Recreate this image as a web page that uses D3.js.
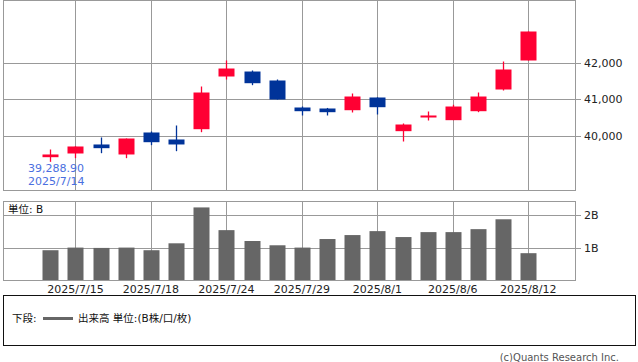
<!DOCTYPE html>
<html>
<head>
<meta charset="utf-8">
<script src="https://cdn.jsdelivr.net/npm/d3@7"></script>
<style>
  body { margin: 0; background: #fff; }
  svg text { font-family: "DejaVu Sans", "Noto Sans CJK JP", sans-serif; }
</style>
</head>
<body>
<div id="chart"></div>
<script>
// daily candles (Nikkei-like)
var dates = ["2025/7/14","2025/7/15","2025/7/16","2025/7/17","2025/7/18","2025/7/22","2025/7/23",
  "2025/7/24","2025/7/25","2025/7/28","2025/7/29","2025/7/30","2025/7/31","2025/8/1",
  "2025/8/4","2025/8/5","2025/8/6","2025/8/7","2025/8/8","2025/8/12"];
var opens  = [39416, 39517, 39763, 39490, 40090, 39899, 40180, 41618, 41754, 41509, 40772, 40745, 40698, 41045, 40126, 40499, 40426, 40671, 41263, 42055];
var highs  = [39626, 39715, 39954, 39926, 40117, 40281, 41345, 42055, 41782, 41536, 40799, 40760, 41154, 41050, 40336, 40663, 40846, 41181, 42027, 42846];
var lows   = [39288.9, 39389, 39525, 39389, 39744, 39580, 40098, 41536, 41381, 40990, 40554, 40554, 40636, 40581, 39844, 40417, 40426, 40644, 41236, 42055];
var closes = [39490, 39708, 39662, 39926, 39825, 39763, 41181, 41836, 41435, 40990, 40671, 40644, 41072, 40780, 40308, 40554, 40799, 41072, 41809, 42846];
var volumes = [0.92, 1.0, 0.99, 1.0, 0.92, 1.13, 2.22, 1.53, 1.2, 1.07, 1.0, 1.26, 1.38, 1.5, 1.32, 1.47, 1.47, 1.56, 1.86, 0.83];

var tickDates = ["2025/7/15","2025/7/18","2025/7/24","2025/7/29","2025/8/1","2025/8/6","2025/8/12"];
var priceTicks = [40000, 41000, 42000];
var volTicks = [1, 2];

var data = dates.map(function(d, i) {
  return { date: d, open: opens[i], high: highs[i], low: lows[i], close: closes[i], vol: volumes[i] };
});

var W = 638, H = 362;
var left = 3, right = 575;
var gridColor = "#999";

var svg = d3.select("#chart").append("svg")
  .attr("width", W)
  .attr("height", H);

var x = d3.scalePoint()
  .domain(dates)
  .range([50.3, 528.3]);

// upper panel: price
var pTop = 0.5, pBottom = 190.5;
var y = d3.scaleLinear()
  .domain([38507, 43692])
  .range([pBottom, pTop]);

// lower panel: volume
var vTop = 201.5, vBottom = 280.5;
var yv = d3.scaleLinear()
  .domain([0, 2.4])
  .range([vBottom, vTop]);

function crisp(v) { return Math.round(v) + 0.5; }

// price gridlines + right axis
svg.append("g")
  .attr("transform", "translate(" + right + ",0)")
  .call(d3.axisRight(y).tickValues(priceTicks).tickFormat(d3.format(",")))
  .call(function(g) {
    g.select(".domain").remove();
    g.selectAll(".tick").attr("transform", function(d) { return "translate(0," + crisp(y(d)) + ")"; });
    g.selectAll("line").attr("stroke", gridColor).attr("x1", -(right - left)).attr("x2", 6);
    g.selectAll("text").attr("fill", "#222").style("font-size", "11px").attr("x", 9);
  });

// vertical gridlines in both panels
svg.selectAll(".vgrid")
  .data(tickDates)
  .enter().append("line")
  .attr("class", "vgrid")
  .attr("x1", function(d) { return crisp(x(d)); })
  .attr("x2", function(d) { return crisp(x(d)); })
  .attr("y1", pTop)
  .attr("y2", pBottom)
  .attr("stroke", gridColor);

svg.selectAll(".vgrid2")
  .data(tickDates)
  .enter().append("line")
  .attr("class", "vgrid2")
  .attr("x1", function(d) { return crisp(x(d)); })
  .attr("x2", function(d) { return crisp(x(d)); })
  .attr("y1", vTop)
  .attr("y2", vBottom)
  .attr("stroke", gridColor);

// volume gridlines + right axis
svg.append("g")
  .attr("transform", "translate(" + right + ",0)")
  .call(d3.axisRight(yv).tickValues(volTicks).tickFormat(function(d) { return d + "B"; }))
  .call(function(g) {
    g.select(".domain").remove();
    g.selectAll(".tick").attr("transform", function(d) { return "translate(0," + crisp(yv(d)) + ")"; });
    g.selectAll("line").attr("stroke", gridColor).attr("x1", -(right - left)).attr("x2", 6);
    g.selectAll("text").attr("fill", "#222").style("font-size", "11px").attr("x", 9);
  });

// candles
var red = "#ff0033", blue = "#003399";
var bw = 16;
var candle = svg.selectAll(".candle")
  .data(data)
  .enter().append("g")
  .attr("class", "candle");

candle.append("line")
  .attr("x1", function(d) { return Math.round(x(d.date)) + 0.5; })
  .attr("x2", function(d) { return Math.round(x(d.date)) + 0.5; })
  .attr("y1", function(d) { return y(d.high); })
  .attr("y2", function(d) { return y(d.low); })
  .attr("stroke", function(d) { return d.close >= d.open ? red : blue; })
  .attr("stroke-width", 1.3);

candle.append("rect")
  .attr("x", function(d) { return Math.round(x(d.date)) - bw / 2 + 0.5; })
  .attr("width", bw)
  .attr("y", function(d) { return y(Math.max(d.open, d.close)); })
  .attr("height", function(d) { return Math.max(2, Math.abs(y(d.open) - y(d.close))); })
  .attr("fill", function(d) { return d.close >= d.open ? red : blue; });

// volume bars
svg.selectAll(".bar")
  .data(data)
  .enter().append("rect")
  .attr("class", "bar")
  .attr("x", function(d) { return Math.round(x(d.date)) - bw / 2 + 0.5; })
  .attr("width", bw)
  .attr("y", function(d) { return yv(d.vol); })
  .attr("height", function(d) { return yv(0) - yv(d.vol); })
  .attr("fill", "#666");

// panel borders
svg.append("rect")
  .attr("x", left + 0.5).attr("y", pTop)
  .attr("width", right - left).attr("height", pBottom - pTop)
  .attr("fill", "none").attr("stroke", gridColor);
svg.append("rect")
  .attr("x", left + 0.5).attr("y", vTop)
  .attr("width", right - left).attr("height", vBottom - vTop)
  .attr("fill", "none").attr("stroke", gridColor);

// date labels
svg.selectAll(".dlabel")
  .data(tickDates)
  .enter().append("text")
  .attr("class", "dlabel")
  .attr("x", function(d) { return x(d); })
  .attr("y", 293)
  .attr("text-anchor", "middle")
  .style("font-size", "11px")
  .attr("fill", "#222")
  .text(function(d) { return d; });

// lowest price annotation
var lowest = data[d3.minIndex(data, function(d) { return d.low; })];
svg.append("text")
  .attr("x", 28).attr("y", 172)
  .style("font-size", "11px").attr("fill", "#4a6fe0")
  .text(d3.format(",.2f")(lowest.low));
svg.append("text")
  .attr("x", 28).attr("y", 184.5)
  .style("font-size", "11px").attr("fill", "#4a6fe0")
  .text(lowest.date);

svg.append("text")
  .attr("x", 8).attr("y", 213)
  .style("font-size", "10.5px").attr("fill", "#111")
  .text("単位: B");

// legend box
svg.append("rect")
  .attr("x", 3.5).attr("y", 295.5)
  .attr("width", 632).attr("height", 50)
  .attr("fill", "none").attr("stroke", "#111");
svg.append("text")
  .attr("x", 12).attr("y", 322)
  .style("font-size", "10.5px").attr("fill", "#111")
  .text("下段:");
svg.append("line")
  .attr("x1", 43).attr("x2", 73)
  .attr("y1", 318.5).attr("y2", 318.5)
  .attr("stroke", "#666").attr("stroke-width", 3);
svg.append("text")
  .attr("x", 78).attr("y", 322)
  .style("font-size", "10.5px").attr("fill", "#111")
  .text("出来高 単位:(B株/口/枚)");

svg.append("text")
  .attr("x", 619).attr("y", 361)
  .attr("text-anchor", "end")
  .style("font-size", "10px").attr("fill", "#555")
  .text("(c)Quants Research Inc.");
</script>
</body>
</html>
